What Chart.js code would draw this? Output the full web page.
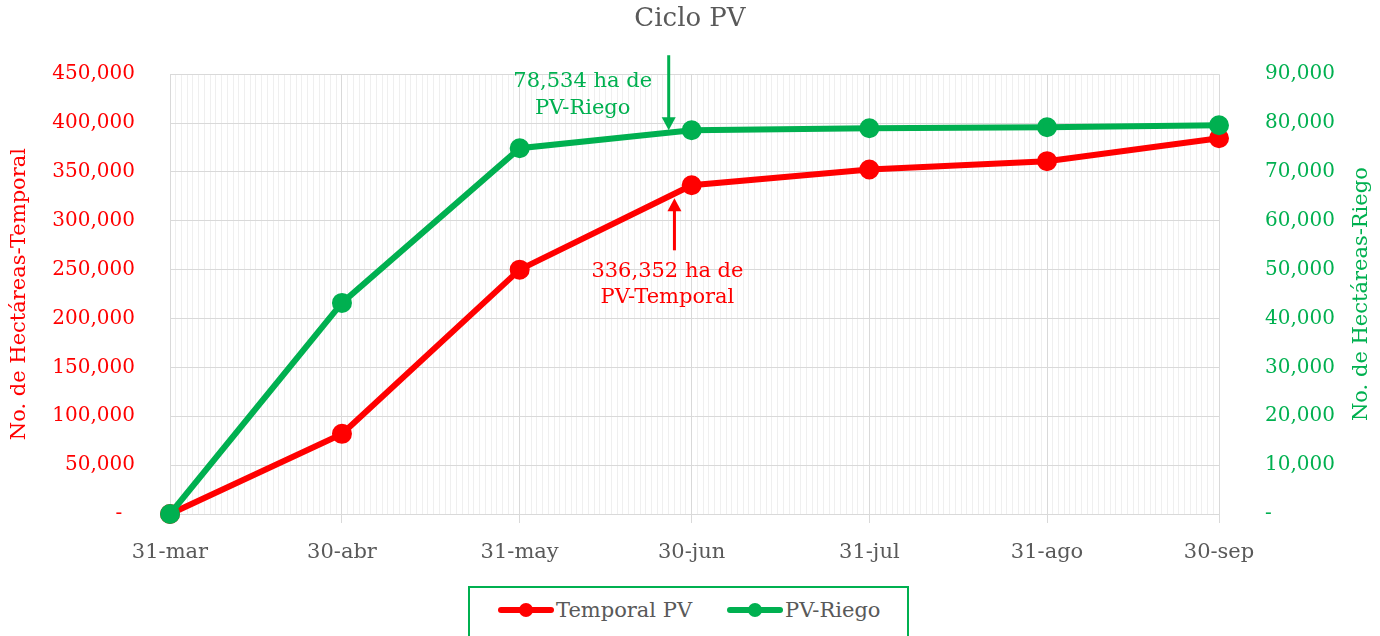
<!DOCTYPE html>
<html lang="es">

<head>
   <meta charset="UTF-8">
   <title>Ciclo PV</title>
   <script src="https://cdn.jsdelivr.net/npm/chart.js@4/dist/chart.umd.min.js"></script>
   <style>
      body { margin: 0; background: #fff; }
      .wrap { position: relative; width: 1380px; height: 636px; overflow: hidden; }
      .leyenda {
         position: absolute; left: 468px; top: 586px; width: 437px; height: 60px;
         border: 2px solid #00b050; background: #fff;
         font-family: 'DejaVu Serif', serif; font-size: 21px; color: #595959;
      }
      .leyenda .item { position: absolute; top: 10px; height: 24px; line-height: 24px; white-space: nowrap; }
      .leyenda .mk { display: inline-block; position: relative; width: 56px; height: 24px; vertical-align: top; margin-right: 2px; }
      .leyenda .mk:before { content: ''; position: absolute; left: 0; right: 0; top: 9px; height: 6px; border-radius: 3px; background: currentColor; }
      .leyenda .mk:after { content: ''; position: absolute; left: 21px; top: 5px; width: 14px; height: 14px; border-radius: 50%; background: currentColor; }
   </style>
</head>

<body>
   <div class="wrap">
      <canvas id="cicloPV" width="1380" height="636"></canvas>
      <div class="leyenda">
         <span class="item" style="left:28px"><span class="mk" style="color:#ff0000"></span>Temporal PV</span>
         <span class="item" style="left:257px"><span class="mk" style="color:#00b050"></span>PV-Riego</span>
      </div>
   </div>
   <script>
      // dias desde el 31-mar
      var dias = [0, 30, 61, 91, 122, 153, 183];
      var etiquetas = ['31-mar', '30-abr', '31-may', '30-jun', '31-jul', '31-ago', '30-sep'];
      var temporal = [0, 82000, 250000, 336352, 352500, 361000, 384500];
      var riego = [0, 43200, 74850, 78534, 78950, 79150, 79550];
      var ticksTemporal = [0, 50000, 100000, 150000, 200000, 250000, 300000, 350000, 400000, 450000];
      var ticksRiego = [0, 10000, 20000, 30000, 40000, 50000, 60000, 70000, 80000, 90000];

      // notas con flecha: dia, valor donde apunta la flecha, eje
      var notaTexto = [['78,534 ha de', 'PV-Riego'], ['336,352 ha de', 'PV-Temporal']];
      var notaDia = [87, 88];
      var notaValor = [78534, 323000];
      var notaEje = ['y2', 'y'];

      var ROJO = '#ff0000';
      var VERDE = '#00b050';
      var GRIS = '#595959';

      Chart.defaults.font.family = "'DejaVu Serif', serif";

      function fmt(v) {
         return v.toLocaleString('en-US');
      }

      // flechas, textos de las notas y titulo del eje derecho
      var notasPlugin = {
         id: 'notas',
         afterDatasetsDraw: function (chart) {
            var ctx = chart.ctx;
            var x = chart.scales.x;
            ctx.save();
            ctx.font = "21px 'DejaVu Serif', serif";
            ctx.textAlign = 'center';
            ctx.textBaseline = 'middle';
            for (var i = 0; i < notaTexto.length; i++) {
               var px = x.getPixelForValue(notaDia[i]);
               var py = chart.scales[notaEje[i]].getPixelForValue(notaValor[i]);
               var abajo = i == 0; // la verde apunta hacia abajo
               var col = abajo ? VERDE : ROJO;
               var dir = abajo ? -1 : 1;
               ctx.strokeStyle = col;
               ctx.fillStyle = col;
               ctx.lineWidth = 3;
               ctx.beginPath();
               ctx.moveTo(px, py + dir * 10);
               ctx.lineTo(px, py + dir * (abajo ? 75 : 52));
               ctx.stroke();
               ctx.beginPath();
               ctx.moveTo(px, py);
               ctx.lineTo(px - 7, py + dir * 13);
               ctx.lineTo(px + 7, py + dir * 13);
               ctx.closePath();
               ctx.fill();
               if (abajo) {
                  ctx.fillText(notaTexto[i][0], px - 86, py - 49);
                  ctx.fillText(notaTexto[i][1], px - 86, py - 22);
               } else {
                  ctx.fillText(notaTexto[i][0], px - 7, py + 73);
                  ctx.fillText(notaTexto[i][1], px - 7, py + 99);
               }
            }
            // titulo eje derecho (Excel lo gira igual que el izquierdo)
            var y2 = chart.scales.y2;
            ctx.fillStyle = VERDE;
            ctx.font = "21px 'DejaVu Serif', serif";
            ctx.translate(y2.right - 18, (y2.top + y2.bottom) / 2);
            ctx.rotate(-Math.PI / 2);
            ctx.fillText('No. de Hectáreas-Riego', 0, 0);
            ctx.restore();
         }
      };

      var ctx = document.getElementById('cicloPV').getContext('2d');
      var cicloPV = new Chart(ctx, {
         type: 'line',
         plugins: [notasPlugin],
         data: {
            datasets: [{
               label: 'Temporal PV',
               data: dias.map(function (d, i) { return { x: d, y: temporal[i] }; }),
               yAxisID: 'y',
               borderColor: ROJO,
               backgroundColor: ROJO,
               borderWidth: 6,
               pointRadius: 7,
               clip: false,
               order: 1
            }, {
               label: 'PV-Riego',
               data: dias.map(function (d, i) { return { x: d, y: riego[i] }; }),
               yAxisID: 'y2',
               borderColor: VERDE,
               backgroundColor: VERDE,
               borderWidth: 6,
               pointRadius: 7,
               clip: false,
               order: 0
            }]
         },
         options: {
            responsive: false,
            animation: false,
            devicePixelRatio: 1,
            plugins: {
               legend: { display: false },
               tooltip: { enabled: false },
               title: {
                  display: true,
                  text: 'Ciclo PV',
                  color: GRIS,
                  font: { size: 26, weight: 'normal' },
                  padding: { top: 4, bottom: 39 }
               }
            },
            scales: {
               // lineas diarias
               xMinor: {
                  type: 'linear',
                  position: 'bottom',
                  min: 0,
                  max: 183,
                  afterBuildTicks: function (s) {
                     var t = [];
                     for (var d = 1; d < 183; d++) {
                        if (dias.indexOf(d) < 0) t.push({ value: d });
                     }
                     s.ticks = t;
                  },
                  afterFit: function (s) { s.height = 0; },
                  ticks: { display: false },
                  grid: { color: '#efefef', drawTicks: false },
                  border: { display: false }
               },
               x: {
                  type: 'linear',
                  position: 'bottom',
                  min: 0,
                  max: 183,
                  afterBuildTicks: function (s) {
                     s.ticks = dias.map(function (d) { return { value: d }; });
                  },
                  afterFit: function (s) { s.height = 122; },
                  ticks: {
                     color: GRIS,
                     font: { size: 21 },
                     padding: 17,
                     maxRotation: 0,
                     callback: function (v) { return etiquetas[dias.indexOf(v)]; }
                  },
                  grid: { color: '#d9d9d9', tickLength: 9 },
                  border: { color: '#d9d9d9' }
               },
               y: {
                  position: 'left',
                  min: 0,
                  max: 450000,
                  afterBuildTicks: function (s) {
                     s.ticks = ticksTemporal.map(function (v) { return { value: v }; });
                  },
                  afterFit: function (s) { s.width = 170; },
                  ticks: {
                     color: ROJO,
                     font: { size: 20 },
                     padding: 35,
                     callback: function (v) { return v === 0 ? '-  ' : fmt(v); }
                  },
                  grid: { color: '#d9d9d9', drawTicks: false },
                  border: { display: false },
                  title: {
                     display: true,
                     text: 'No. de Hectáreas-Temporal',
                     color: ROJO,
                     font: { size: 21 },
                     padding: { top: 7 }
                  }
               },
               y2: {
                  position: 'right',
                  min: 0,
                  max: 90000,
                  afterBuildTicks: function (s) {
                     s.ticks = ticksRiego.map(function (v) { return { value: v }; });
                  },
                  afterFit: function (s) { s.width = 161; },
                  ticks: {
                     color: VERDE,
                     font: { size: 20 },
                     padding: 38,
                     callback: function (v) { return v === 0 ? '-' : fmt(v); }
                  },
                  grid: { display: false },
                  border: { display: false }
               }
            }
         }
      });
   </script>
</body>

</html>
